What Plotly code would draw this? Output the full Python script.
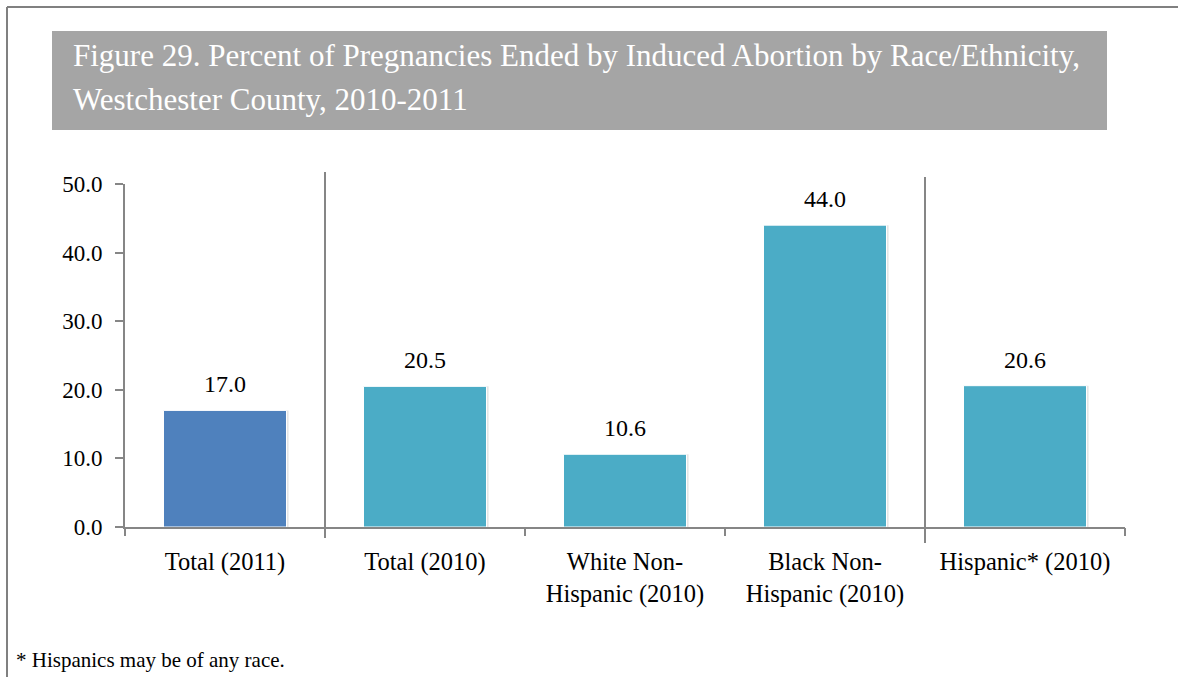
import plotly.graph_objects as go

categories = ["Total (2011)", "Total (2010)", "White Non-Hispanic (2010)",
              "Black Non-Hispanic (2010)", "Hispanic* (2010)"]
tick_labels = ["Total (2011)", "Total (2010)", "White Non-<br>Hispanic (2010)",
               "Black Non-<br>Hispanic (2010)", "Hispanic* (2010)"]
values = [17.0, 20.5, 10.6, 44.0, 20.6]
value_labels = ["17.0", "20.5", "10.6", "44.0", "20.6"]
bar_colors = ["#4f81bd", "#4bacc6", "#4bacc6", "#4bacc6", "#4bacc6"]
y_ticks = [0, 10, 20, 30, 40, 50]

title_line1 = "Figure 29. Percent of Pregnancies Ended by Induced Abortion by Race/Ethnicity,"
title_line2 = "Westchester County, 2010-2011"
footnote = "* Hispanics may be of any race."

FONT = "Liberation Serif"
W, H = 1178, 677
L, R, T, B = 125, 53, 184, 150
pw, ph = W - L - R, H - T - B


def px(x):
    return (x - L) / pw


def py(y):
    return (H - B - y) / ph


xs = list(range(len(categories)))

fig = go.Figure()
# subtle shadow
fig.add_trace(go.Bar(
    x=xs, y=values, width=0.62, offset=-0.302,
    marker=dict(color="rgba(0,0,0,0.10)", line=dict(width=0)),
    hoverinfo="skip", showlegend=False))
fig.add_trace(go.Bar(
    x=xs, y=values, width=0.615, offset=-0.3075,
    marker=dict(color=bar_colors, line=dict(color="white", width=1)),
    showlegend=False))

for i, (v, t) in enumerate(zip(values, value_labels)):
    fig.add_annotation(x=i, y=v, text=t, showarrow=False, yshift=26,
                       font=dict(family=FONT, size=24, color="black"))

shapes = [
    # outer frame
    dict(type="line", xref="paper", yref="paper", x0=px(7), x1=px(W + 5),
         y0=py(7), y1=py(7), line=dict(color="#808080", width=2)),
    dict(type="line", xref="paper", yref="paper", x0=px(7), x1=px(7),
         y0=py(7), y1=py(H + 5), line=dict(color="#808080", width=2)),
    # title box
    dict(type="rect", xref="paper", yref="paper", x0=px(52), x1=px(1107),
         y0=py(130), y1=py(31), fillcolor="#a5a5a5", line=dict(width=0),
         layer="below"),
    # group dividers
    dict(type="line", xref="x", yref="paper", x0=0.5, x1=0.5,
         y0=py(538), y1=py(172), line=dict(color="#868686", width=2)),
    dict(type="line", xref="x", yref="paper", x0=3.5, x1=3.5,
         y0=py(543), y1=py(177), line=dict(color="#868686", width=2)),
]

fig.add_annotation(xref="paper", yref="paper", x=px(71), y=py(55),
                   xanchor="left", yanchor="middle", text=title_line1,
                   showarrow=False, font=dict(family=FONT, size=31, color="white"))
fig.add_annotation(xref="paper", yref="paper", x=px(71), y=py(99),
                   xanchor="left", yanchor="middle", text=title_line2,
                   showarrow=False, font=dict(family=FONT, size=31, color="white"))
fig.add_annotation(xref="paper", yref="paper", x=px(14), y=py(660),
                   xanchor="left", yanchor="middle", text=footnote,
                   showarrow=False, font=dict(family=FONT, size=21, color="black"))

fig.update_layout(
    width=W, height=H,
    margin=dict(l=L, r=R, t=T, b=B, pad=0),
    paper_bgcolor="white", plot_bgcolor="white",
    barmode="overlay",
    shapes=shapes,
    font=dict(family=FONT, color="black"),
    xaxis=dict(
        range=[-0.5, len(categories) - 0.5],
        tickmode="array", tickvals=xs, ticktext=tick_labels,
        showline=True, linecolor="#868686", linewidth=2,
        ticks="", showgrid=False, zeroline=False,
        ticklabelstandoff=12,
        tickfont=dict(family=FONT, size=24.5, color="black"),
        fixedrange=True,
    ),
    yaxis=dict(
        range=[0, 50], tickmode="array", tickvals=y_ticks,
        tickformat=".1f",
        showline=True, linecolor="#868686", linewidth=2,
        ticks="outside", ticklen=8, tickcolor="#868686", tickwidth=2,
        ticklabelstandoff=8,
        showgrid=False, zeroline=False,
        tickfont=dict(family=FONT, size=23, color="black"),
        fixedrange=True,
    ),
)

# boundary ticks on x axis (category edges), drawn via a secondary overlaying axis
fig.update_layout(
    xaxis2=dict(
        overlaying="x", range=[-0.5, len(categories) - 0.5],
        tickmode="array", tickvals=[i - 0.5 for i in range(len(categories) + 1)],
        ticks="outside", ticklen=8, tickcolor="#868686", tickwidth=2,
        showticklabels=False, showgrid=False, zeroline=False, showline=False,
        side="bottom", fixedrange=True,
    )
)
fig.add_trace(go.Scatter(x=[None], y=[None], xaxis="x2", showlegend=False,
                         hoverinfo="skip"))

fig.write_html("out.html", config={"displayModeBar": False},
               post_script="document.body.style.margin='0';document.body.style.overflow='hidden';")
